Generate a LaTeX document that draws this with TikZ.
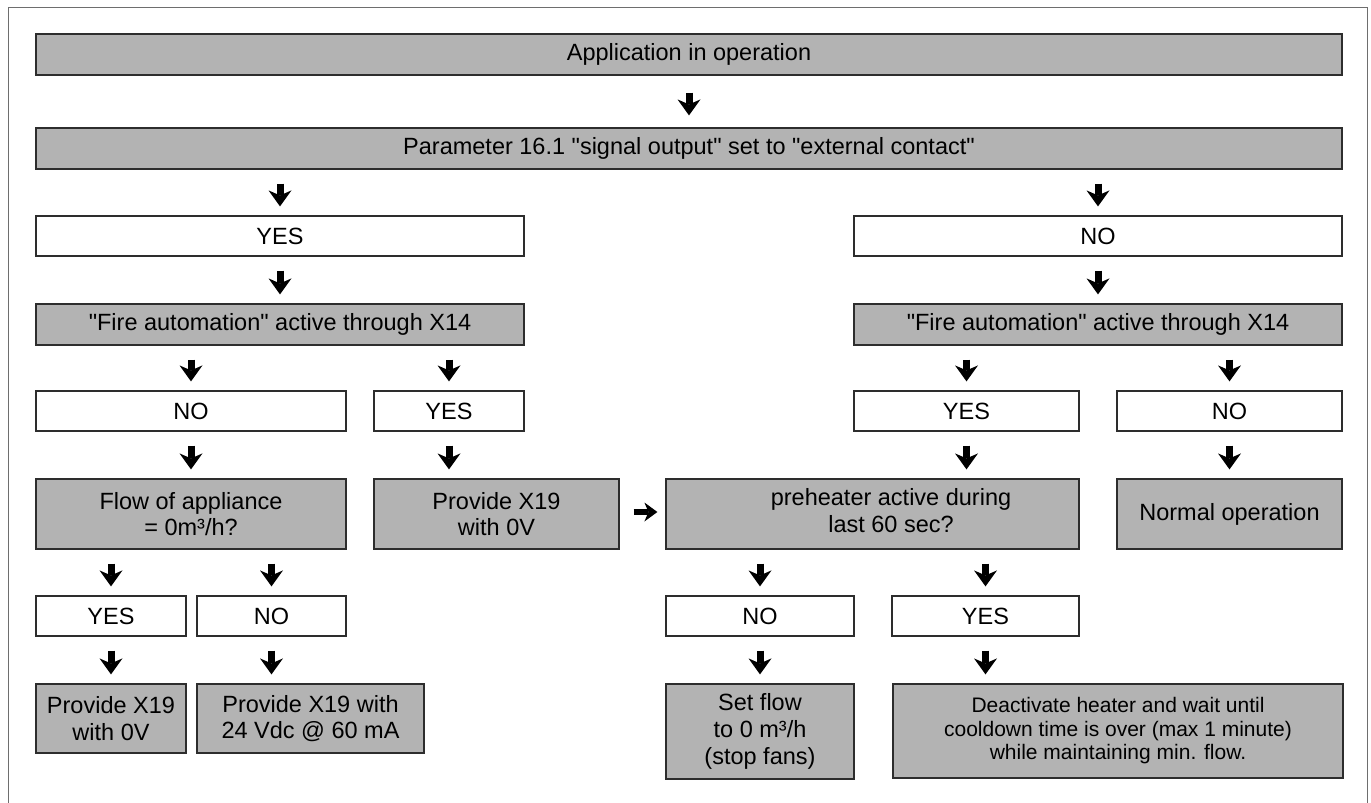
\documentclass[tikz,border=0pt]{standalone}
\usepackage{fontspec}
\setmainfont{Liberation Sans}[Ligatures=TeXOff]
\usetikzlibrary{arrows.meta}
\definecolor{boxgray}{RGB}{179,179,179}
\definecolor{boxline}{RGB}{45,45,45}
\definecolor{framegray}{RGB}{110,110,110}
\begin{document}
\begin{tikzpicture}[x=1pt,y=-1pt,
  base/.style={draw=boxline, line width=1.2pt, inner sep=0pt, align=center,
    font=\fontsize{23.5}{26.7}\selectfont, text=black},
  gbox/.style={base, fill=boxgray},
  wbox/.style={base, fill=white},
  conn/.style={line width=7pt, draw=black,
    -{Stealth[length=16pt,width=23pt,inset=5pt,line width=0pt]},
    shorten <=14pt, shorten >=9pt},
  hconn/.style={line width=6pt, draw=black,
    -{Stealth[length=13pt,width=19pt,inset=4pt,line width=0pt]},
    shorten <=14pt, shorten >=8pt},
  frame/.style={draw=framegray, line width=1pt}
]
\useasboundingbox (0,0) rectangle (1371,803);
\draw[frame] (8,804) -- (8,7) -- (1367,7) -- (1367,804);

% top
\node[gbox, minimum width=1306pt, minimum height=41pt] (app) at (689,54.5) {Application in operation};
\node[gbox, minimum width=1306pt, minimum height=41pt] (param) at (689,148.5) {Parameter 16.1 "signal output" set to "external contact"};

% level 2
\node[wbox, minimum width=488pt, minimum height=40pt] (yesL) at (280,236) {YES};
\node[wbox, minimum width=488pt, minimum height=40pt] (noR) at (1098,236) {NO};

% level 3
\node[gbox, minimum width=488pt, minimum height=41pt] (fireL) at (280,324.5) {"Fire automation" active through X14};
\node[gbox, minimum width=488pt, minimum height=41pt] (fireR) at (1098,324.5) {"Fire automation" active through X14};

% level 4
\node[wbox, minimum width=310pt, minimum height=40pt] (noLL) at (191,411) {NO};
\node[wbox, minimum width=150pt, minimum height=40pt] (yesLR) at (449,411) {YES};
\node[wbox, minimum width=225pt, minimum height=40pt] (yesRL) at (966.5,411) {YES};
\node[wbox, minimum width=225pt, minimum height=40pt] (noRR) at (1229.5,411) {NO};

% level 5
\node[gbox, minimum width=310pt, minimum height=70pt] (flow) at (191,514) {Flow of appliance\\= 0m³/h?};
\node[gbox, minimum width=245pt, minimum height=70pt] (prov1) at (496.5,514) {Provide X19\\with 0V};
\node[gbox, minimum width=413pt, minimum height=70pt] (pre) at (872.5,514) {\hspace*{37pt}\begin{tabular}{@{}c@{}}preheater active during\\last 60 sec?\end{tabular}};
\node[gbox, minimum width=225pt, minimum height=70pt] (normal) at (1229.5,514) {Normal operation};

% level 6
\node[wbox, minimum width=150pt, minimum height=40pt] (yesF) at (111,616) {YES};
\node[wbox, minimum width=149pt, minimum height=40pt] (noF) at (271.5,616) {NO};
\node[wbox, minimum width=188pt, minimum height=40pt] (noP) at (760,616) {NO};
\node[wbox, minimum width=187pt, minimum height=40pt] (yesP) at (985.5,616) {YES};

% level 7
\node[gbox, minimum width=150pt, minimum height=69pt] (prov0) at (111,718.5) {Provide X19\\with 0V};
\node[gbox, minimum width=227pt, minimum height=69pt] (prov24) at (310.5,718.5) {Provide X19 with\\24 Vdc @ 60 mA};
\node[gbox, minimum width=188pt, minimum height=95pt] (setflow) at (760,731.5) {Set flow\\to 0 m³/h\\(stop fans)};
\node[gbox, minimum width=450pt, minimum height=94pt, font=\fontsize{21}{23.5}\selectfont] (deact) at (1118,731) {Deactivate heater and wait until\\cooldown time is over (max 1 minute)\\while maintaining min. flow.};

% arrows
\draw[conn, shorten <=17pt, shorten >=12pt] (app.south) -- (param.north);
\draw[conn] (yesL.north |- param.south) -- (yesL.north);
\draw[conn] (noR.north |- param.south) -- (noR.north);
\draw[conn] (yesL.south) -- (fireL.north);
\draw[conn] (noR.south) -- (fireR.north);
\draw[conn] (noLL.north |- fireL.south) -- (noLL.north);
\draw[conn] (yesLR.north |- fireL.south) -- (yesLR.north);
\draw[conn] (yesRL.north |- fireR.south) -- (yesRL.north);
\draw[conn] (noRR.north |- fireR.south) -- (noRR.north);
\draw[conn] (noLL.south) -- (flow.north);
\draw[conn] (yesLR.south) -- (yesLR.south |- prov1.north);
\draw[conn] (yesRL.south) -- (yesRL.south |- pre.north);
\draw[conn] (noRR.south) -- (normal.north);
\draw[conn] (yesF.north |- flow.south) -- (yesF.north);
\draw[conn] (noF.north |- flow.south) -- (noF.north);
\draw[conn] (noP.north |- pre.south) -- (noP.north);
\draw[conn] (yesP.north |- pre.south) -- (yesP.north);
\draw[conn] (yesF.south) -- (prov0.north);
\draw[conn] (noF.south) -- (noF.south |- prov24.north);
\draw[conn] (noP.south) -- (setflow.north);
\draw[conn] (yesP.south) -- (yesP.south |- deact.north);
\draw[hconn] ([yshift=2pt]prov1.east) -- ([yshift=2pt]prov1.east -| pre.west);
\end{tikzpicture}
\end{document}
